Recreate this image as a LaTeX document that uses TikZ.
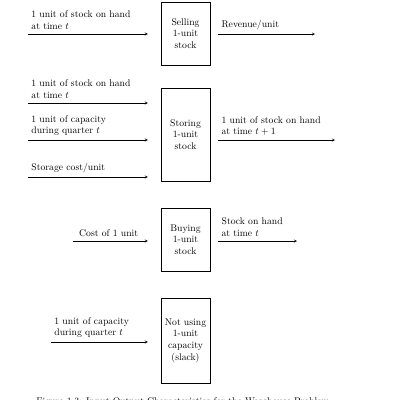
\documentclass[tikz,border=0pt]{standalone}
\usepackage{amsmath}
\usetikzlibrary{arrows.meta}

\begin{document}
\begin{tikzpicture}[x=0.0363cm, y=-0.0363cm, >=stealth,
    activity/.style={draw, minimum width=1.78cm, align=center, inner sep=0pt},
    inflow/.style={->, shorten >=0.47cm},
    outflow/.style={->, shorten <=0.29cm},
    lbl/.style={anchor=south west, align=left, yshift=1pt}]
    \useasboundingbox (0,0) rectangle (400,400);

    % activity boxes
    \node[activity, minimum height=2.29cm] (sell) at (185.5,33.5) {Selling\\1-unit\\stock};
    \node[activity, minimum height=3.38cm] (store) at (185.5,134.5) {Storing\\1-unit\\stock};
    \node[activity, minimum height=2.29cm] (buy) at (185.5,239.5) {Buying\\1-unit\\stock};
    \node[activity, minimum height=3.09cm] (slack) at (185.5,340.5) {Not using\\1-unit\\capacity\\(slack)};

    % selling
    \coordinate (sell-in) at (28,34);
    \coordinate (sell-out) at (315,34);
    \draw[inflow] (sell-in) -- (sell-in -| sell.west);
    \draw[outflow] (sell-out -| sell.east) -- (sell-out);
    \node[lbl] at (sell-in) {1 unit of stock on hand\\at time \(t\)};
    \node[lbl] at (sell-out -| sell.east) [xshift=0.29cm] {Revenue/unit};

    % storing
    \coordinate (store-in1) at (28,103);
    \coordinate (store-in2) at (28,140);
    \coordinate (store-in3) at (28,177);
    \coordinate (store-out) at (335,140);
    \draw[inflow] (store-in1) -- (store-in1 -| store.west);
    \draw[inflow] (store-in2) -- (store-in2 -| store.west);
    \draw[inflow] (store-in3) -- (store-in3 -| store.west);
    \draw[outflow] (store-out -| store.east) -- (store-out);
    \node[lbl] at (store-in1) {1 unit of stock on hand\\at time \(t\)};
    \node[lbl] at (store-in2) {1 unit of capacity\\during quarter \(t\)};
    \node[lbl] at (store-in3) {Storage cost/unit};
    \node[lbl] at (store-out -| store.east) [xshift=0.29cm] {1 unit of stock on hand\\at time \(t+1\)};

    % buying
    \coordinate (buy-in) at (73,241);
    \coordinate (buy-out) at (297,241);
    \draw[inflow] (buy-in) -- (buy-in -| buy.west);
    \draw[outflow] (buy-out -| buy.east) -- (buy-out);
    \node[lbl] at (buy-in) [xshift=0.1cm] {Cost of 1 unit};
    \node[lbl] at (buy-out -| buy.east) [xshift=0.29cm] {Stock on hand\\at time \(t\)};

    % slack
    \coordinate (slack-in) at (51,342);
    \draw[inflow] (slack-in) -- (slack-in -| slack.west);
    \node[lbl] at (slack-in) {1 unit of capacity\\during quarter \(t\)};

    \node[anchor=base] (caption) at (183,404) {Figure 1.3: Input-Output Characteristics for the Warehouse Problem};
\end{tikzpicture}
\end{document}
